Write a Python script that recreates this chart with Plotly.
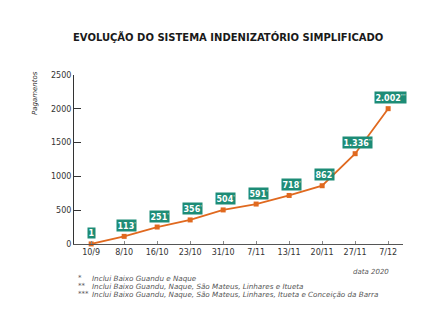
import plotly.graph_objects as go

dates = ["10/9", "8/10", "16/10", "23/10", "31/10", "7/11", "13/11", "20/11", "27/11", "7/12"]
pagamentos = [1, 113, 251, 356, 504, 591, 718, 862, 1336, 2002]
labels = ["1", "113*", "251*", "356*", "504*", "591*", "718*", "862*", "1.336**", "2.002***"]
y_ticks = [0, 500, 1000, 1500, 2000, 2500]
footnotes = [
    ("*", "Inclui Baixo Guandu e Naque"),
    ("**", "Inclui Baixo Guandu, Naque, São Mateus, Linhares e Itueta"),
    ("***", "Inclui Baixo Guandu, Naque, São Mateus, Linhares, Itueta e Conceição da Barra"),
]

ORANGE = "#e0691f"
GREEN = "#1d8c76"
FONT = "DejaVu Sans"

L, R, T, B = 74, 403, 75, 244


def px(x):
    return (x - L) / (R - L)


def py(y):
    return (B - y) / (B - T)


fig = go.Figure()
fig.add_trace(go.Scatter(
    x=list(range(len(dates))), y=pagamentos, mode="lines+markers",
    line=dict(color=ORANGE, width=1.8),
    marker=dict(symbol="square", size=5, color=ORANGE),
    cliponaxis=False, hoverinfo="skip",
))

for i, (v, lab) in enumerate(zip(pagamentos, labels)):
    num = lab.rstrip("*")
    stars = lab[len(num):]
    txt = "<b>" + num + "</b>"
    if stars:
        txt += "<sup>" + "'" * len(stars) + "</sup>"
    fig.add_annotation(
        x=i, y=v, text=txt, showarrow=False, yshift=11, xanchor="center",
        xshift=2 if stars else 0,
        font=dict(family=FONT, size=8, color="white"),
        bgcolor=GREEN, borderpad=0.5,
    )

fig.add_annotation(
    text="<b>EVOLUÇÃO DO SISTEMA INDENIZATÓRIO SIMPLIFICADO</b>",
    xref="paper", yref="paper", x=px(228), y=py(37),
    showarrow=False, xanchor="center", yanchor="middle",
    font=dict(family=FONT, size=10, color="#1a1a1a"),
)

fig.add_annotation(
    text="<i>Pagamentos</i>", textangle=-90,
    xref="paper", yref="paper", x=px(35), y=py(93),
    showarrow=False, xanchor="center", yanchor="middle",
    font=dict(family=FONT, size=7, color="#333333"),
)

fn_y = [278, 286, 294]
for (st, txt), yy in zip(footnotes, fn_y):
    fig.add_annotation(
        text=st, xref="paper", yref="paper",
        x=px(76), y=py(yy),
        showarrow=False, xanchor="left", yanchor="middle",
        font=dict(family=FONT, size=7, color="#555555"),
    )
    fig.add_annotation(
        text="<i>" + txt + "</i>", xref="paper", yref="paper",
        x=px(90), y=py(yy),
        showarrow=False, xanchor="left", yanchor="middle",
        font=dict(family=FONT, size=7.2, color="#555555"),
    )
fig.add_annotation(
    text="<i>data 2020</i>", xref="paper", yref="paper",
    x=px(391), y=py(272),
    showarrow=False, xanchor="right", yanchor="middle",
    font=dict(family=FONT, size=7, color="#555555"),
)

fig.update_layout(
    width=448, height=322,
    margin=dict(l=L, r=448 - R, t=T, b=322 - B),
    paper_bgcolor="white", plot_bgcolor="white",
    showlegend=False,
    font=dict(family=FONT, color="#333333"),
    xaxis=dict(
        range=[-0.52, 9.45], tickmode="array", tickvals=list(range(len(dates))),
        ticktext=dates, showgrid=False, zeroline=False,
        showline=True, linecolor="#555555", linewidth=1,
        ticks="inside", ticklen=3, tickcolor="#888888",
        tickfont=dict(family=FONT, size=8, color="#333333"),
    ),
    yaxis=dict(
        range=[0, 2500], tickvals=y_ticks, showgrid=False, zeroline=False,
        showline=True, linecolor="#333333", linewidth=1,
        ticks="inside", ticklen=7, tickcolor="#333333",
        tickfont=dict(family=FONT, size=8, color="#333333"),
    ),
)

fig.write_html("out.html")
